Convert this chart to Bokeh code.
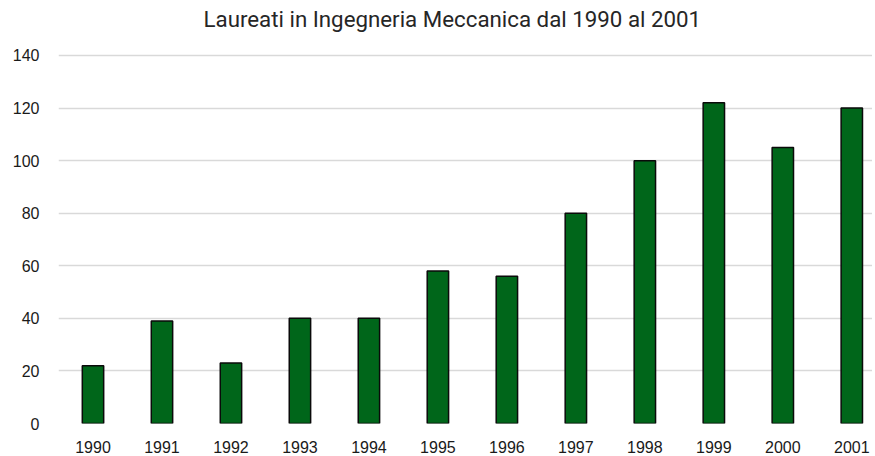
from bokeh.plotting import figure
from bokeh.models import Range1d, FixedTicker, ColumnDataSource, Title
from bokeh.embed import file_html
from bokeh.resources import INLINE

years = [1990, 1991, 1992, 1993, 1994, 1995, 1996, 1997, 1998, 1999, 2000, 2001]
graduates = [22, 39, 23, 40, 40, 58, 56, 80, 100, 122, 105, 120]
y_ticks = [0, 20, 40, 60, 80, 100, 120, 140]
title_text = "Laureati in Ingegneria Meccanica dal 1990 al 2001"

source = ColumnDataSource(data=dict(year=years, value=graduates))

p = figure(width=872, height=455, output_backend="svg", toolbar_location=None,
           x_range=Range1d(1989.5, 2001.3), y_range=Range1d(0, 147.6),
           min_border_left=58, min_border_right=0, min_border_top=0, min_border_bottom=0)

p.add_layout(Title(text=title_text, align="left", text_font="Roboto",
                   text_font_size="22.3px", text_font_style="normal",
                   text_color="#262626", offset=145, standoff=7), "above")

p.vbar(x="year", top="value", width=0.31, bottom=0, source=source,
       fill_color="#00661A", line_color="#0a0a0a", line_width=1.5)

p.outline_line_color = None
p.xgrid.grid_line_color = None
p.ygrid.grid_line_color = "#d9d9d9"
p.ygrid.grid_line_width = 1.5
p.yaxis.ticker = FixedTicker(ticks=y_ticks)
p.xaxis.ticker = FixedTicker(ticks=years)

for ax in (p.xaxis[0], p.yaxis[0]):
    ax.axis_line_color = None
    ax.major_tick_line_color = None
    ax.minor_tick_line_color = None
    ax.major_tick_out = 0
    ax.major_tick_in = 0
    ax.minor_tick_out = 0
    ax.major_label_text_font = "Liberation Sans"
    ax.major_label_text_color = "#1a1a1a"

p.yaxis.major_label_text_font_size = "16px"
p.yaxis.major_label_standoff = 19
p.xaxis.major_label_text_font_size = "16px"
p.xaxis.major_label_standoff = 17

open("out.html", "w").write(file_html(p, INLINE))
